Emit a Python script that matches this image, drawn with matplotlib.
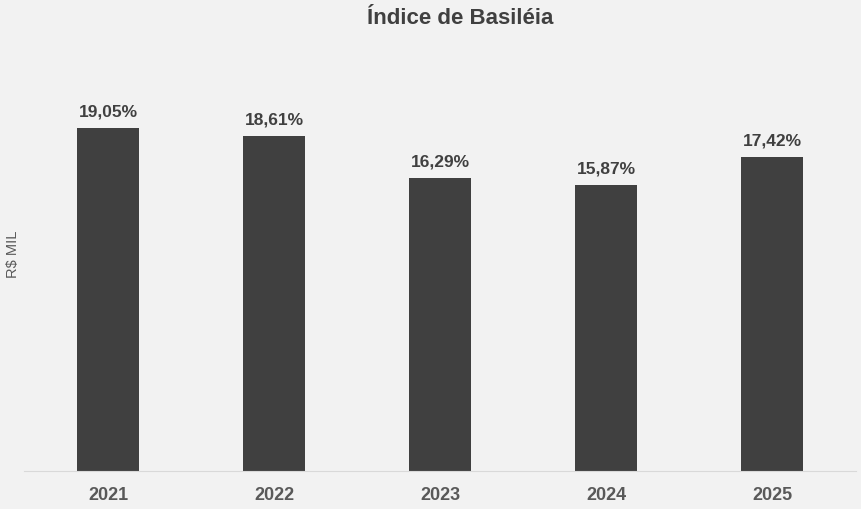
import matplotlib.pyplot as plt

anos = ["2021", "2022", "2023", "2024", "2025"]
indice = [19.05, 18.61, 16.29, 15.87, 17.42]
rotulos = ["19,05%", "18,61%", "16,29%", "15,87%", "17,42%"]

plt.rcParams["font.family"] = ["Liberation Sans", "DejaVu Sans"]

fig = plt.figure(figsize=(8.62, 5.10), dpi=100, facecolor="#f2f2f2")
ax = fig.add_axes([24 / 862, 38 / 510, 832 / 862, 432 / 510])
ax.set_facecolor("#f2f2f2")

x = range(len(anos))
ax.bar(x, indice, width=0.373, color="#404040")

for i, v in enumerate(indice):
    ax.annotate(rotulos[i], (i, v), xytext=(0, 12.2), textcoords="offset points",
                ha="center", va="center", fontsize=12.5, fontweight="bold",
                color="#404040")

ax.set_xlim(-0.506, 4.506)
ax.set_ylim(0, 24)
ax.set_xticks(list(x))
ax.set_xticklabels(anos, fontsize=13, fontweight="bold", color="#595959")
ax.tick_params(axis="x", length=0, pad=11)
ax.set_yticks([])

for lado in ["top", "right", "left"]:
    ax.spines[lado].set_visible(False)
ax.spines["bottom"].set_color("#d9d9d9")

fig.text(13 / 862, 1 - 254 / 510, "R$ MIL", rotation=90, ha="center", va="center",
         fontsize=10.5, color="#595959")
fig.text(460 / 862, 1 - 18 / 510, "Índice de Basiléia", ha="center", va="center",
         fontsize=16, fontweight="bold", color="#404040")

fig.savefig("out.png", dpi=100, facecolor=fig.get_facecolor())
